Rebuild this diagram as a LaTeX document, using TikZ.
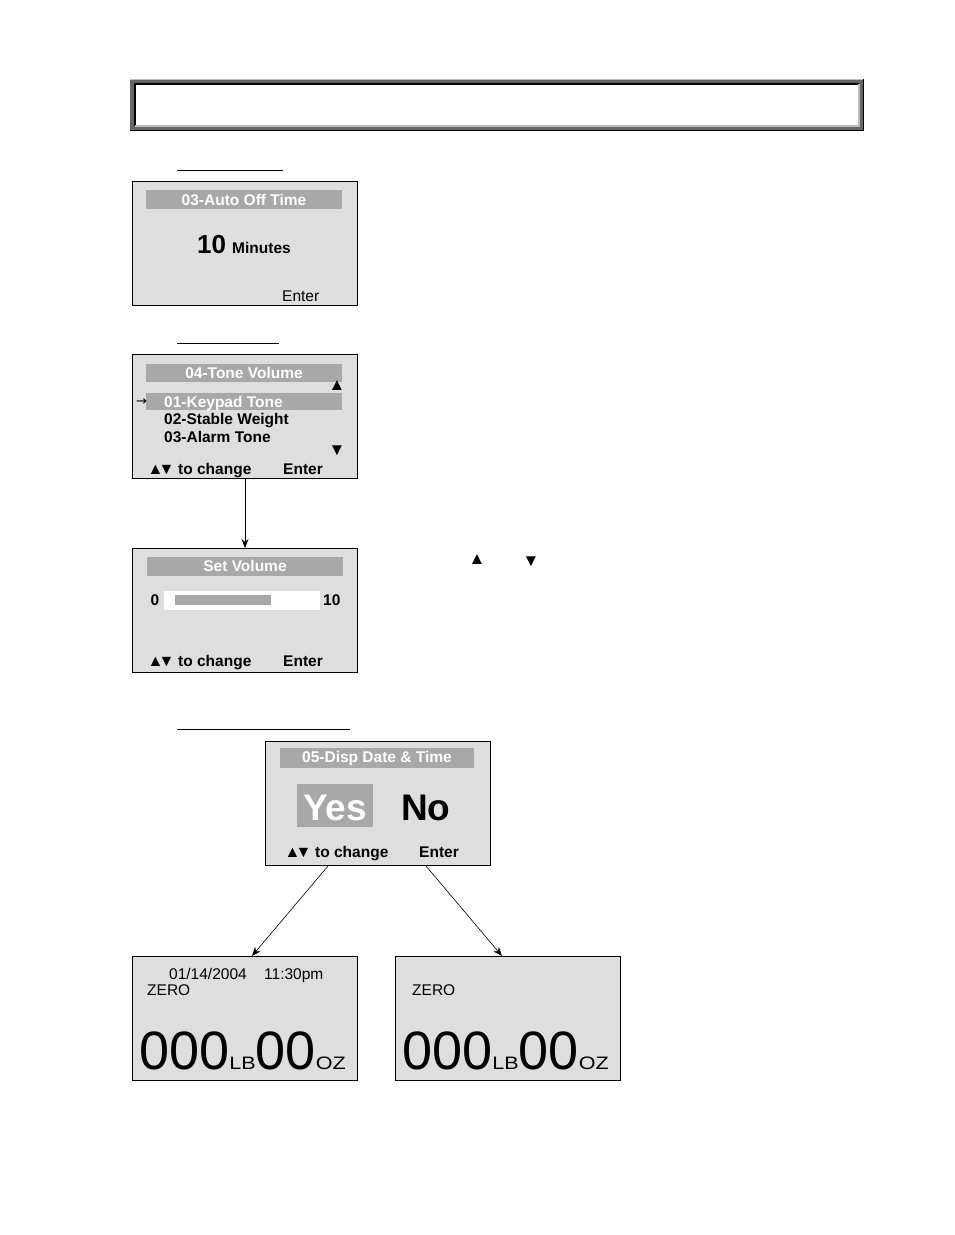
\documentclass[tikz,border=0pt]{standalone}
\usepackage{graphicx}
\usepackage{fontspec}
\setmainfont{Liberation Sans}
\newfontfamily\dejavu{DejaVu Sans}
\usetikzlibrary{arrows.meta}
\definecolor{lcd}{HTML}{DEDEDE}
\definecolor{barc}{HTML}{A8A8A8}
\definecolor{framec}{HTML}{666666}
\definecolor{lightedge}{HTML}{BDBDBD}
\newcommand{\fs}[1]{\fontsize{#1}{#1}\selectfont}
\newcommand{\UpDn}{{\fs{16}▲\kern-5pt▼}}
\newcommand{\BigWeight}{{\fs{54}000}{\fs{18}\scalebox{1.2}[1]{LB}}{\fs{54}00}{\fs{18}\scalebox{1.2}[1]{OZ}}}
\begin{document}
\begin{tikzpicture}[x=1pt,y=-1pt,
  screen/.style={draw=black, line width=1pt, fill=lcd, minimum width=225pt, minimum height=124pt, inner sep=0pt, anchor=north west},
  barbox/.style={fill=barc},
  lbl/.style={inner sep=0pt, font=\fs{15.5}},
  blbl/.style={inner sep=0pt, font=\fs{15.5}\bfseries},
  wlbl/.style={blbl, text=white},
  tri/.style={inner sep=0pt, font=\fs{17}},
  conn/.style={line width=0.6pt, -{Stealth[length=9pt,width=7pt]}},
  uline/.style={line width=1pt}
]
\useasboundingbox (0,0) rectangle (954,1235);
\fill[white] (0,0) rectangle (954,1235);

% header frame
\fill[framec] (130,79) rectangle (864,131);
\draw[lightedge, line width=1.2pt] (130,79.6) -- (864,79.6);
\draw[black, line width=1.2pt] (130,130.4) -- (863.4,130.4) -- (863.4,79);
\fill[white] (135,84) rectangle (859,126);
\draw[black, line width=1.2pt] (135,126) -- (135,84) -- (859,84);
\draw[lightedge, line width=1.2pt] (859,84) -- (859,126) -- (135,126);

% section underlines
\draw[uline] (177,170) -- (283,170);
\draw[uline] (177,343) -- (279,343);
\draw[uline] (177,729) -- (350,729);

% screen 1
\node[screen] (s1) at (132,181) {};
\fill[barbox] (146,190) rectangle (342,209);
\node[wlbl, anchor=base] (s1t) at (244,205.5) {03-Auto Off Time};
\node[blbl, anchor=base west, font=\fs{26}\bfseries] (s1n) at (197,253) {10};
\node[blbl, anchor=base west] (s1m) at (232,253) {Minutes};
\node[lbl, anchor=base west] (s1e) at (282,301) {Enter};

% screen 2
\node[screen] (s2) at (132,354) {};
\fill[barbox] (146,364) rectangle (342,382);
\node[wlbl, anchor=base] (s2t) at (244,378.5) {04-Tone Volume};
\node[tri] (s2up) at (337,386) {▲};
\fill[barbox] (146,393) rectangle (342,410);
\node[wlbl, anchor=base west] (s2a) at (164,407.5) {01-Keypad Tone};
\node[blbl, anchor=base west] (s2b) at (164,424.5) {02-Stable Weight};
\node[blbl, anchor=base west] (s2c) at (164,442) {03-Alarm Tone};
\node[tri] (s2dn) at (337,451) {▼};
\node[inner sep=0pt, anchor=base west] (s2ud) at (147.5,474) {\UpDn};
\node[blbl, anchor=base west] (s2tc) at (178,474.5) {to change};
\node[blbl, anchor=base west] (s2e) at (283,474.5) {Enter};
\node[inner sep=0pt, font=\dejavu\fs{13}] (ptr) at (141.5,402) {→};

% screen 3
\node[screen] (s3) at (132,548) {};
\fill[barbox] (147,557) rectangle (343,576);
\node[wlbl, anchor=base] (s3t) at (245,571.5) {Set Volume};
\node[blbl, anchor=base west] (s3z) at (150.5,605.5) {0};
\fill[white] (164,591) rectangle (320,610);
\fill[barc] (175,595) rectangle (271,605);
\node[blbl, anchor=base west] (s3x) at (323,605.5) {10};
\node[inner sep=0pt, anchor=base west] (s3ud) at (147.5,666) {\UpDn};
\node[blbl, anchor=base west] (s3tc) at (178,666.5) {to change};
\node[blbl, anchor=base west] (s3e) at (283,666.5) {Enter};

\draw[conn] (s2.south) -- (s3.north);

% standalone triangles
\node[tri] (tu) at (477,560) {▲};
\node[tri] (td) at (531,562) {▼};

% screen 4
\node[screen] (s4) at (265,741) {};
\fill[barbox] (280,748) rectangle (474,768);
\node[wlbl, anchor=base] (s4t) at (377,762.5) {05-Disp Date \& Time};
\node[fill=barc, draw=white!60!barc, line width=0.8pt, minimum width=77pt, minimum height=44pt, inner sep=0pt] (yesb) at (334.5,805) {};
\node[wlbl, anchor=base, font=\fs{37}\bfseries] (yes) at (335,820) {Yes};
\node[blbl, anchor=base west, font=\fs{37}\bfseries] (no) at (401,820) {No};
\node[inner sep=0pt, anchor=base west] (s4ud) at (284.5,857) {\UpDn};
\node[blbl, anchor=base west] (s4tc) at (315,857.5) {to change};
\node[blbl, anchor=base west] (s4e) at (419,857.5) {Enter};

% screens 5 and 6
\node[screen] (s5) at (132,956) {};
\node[screen] (s6) at (395,956) {};
\node[lbl, anchor=base west] (s5d) at (169,979.5) {01/14/2004};
\node[lbl, anchor=base west] (s5h) at (264,979.5) {11:30pm};
\node[lbl, anchor=base west] (s5z) at (147,995.5) {ZERO};
\node[inner sep=0pt, anchor=base west] (s5w) at (139,1069) {\BigWeight};
\node[lbl, anchor=base west] (s6z) at (412,995.5) {ZERO};
\node[inner sep=0pt, anchor=base west] (s6w) at (402,1069) {\BigWeight};

\draw[conn] ([xshift=63pt]s4.south west) -- ([xshift=120pt]s5.north west);
\draw[conn] ([xshift=161pt]s4.south west) -- ([xshift=107pt]s6.north west);
\end{tikzpicture}
\end{document}
